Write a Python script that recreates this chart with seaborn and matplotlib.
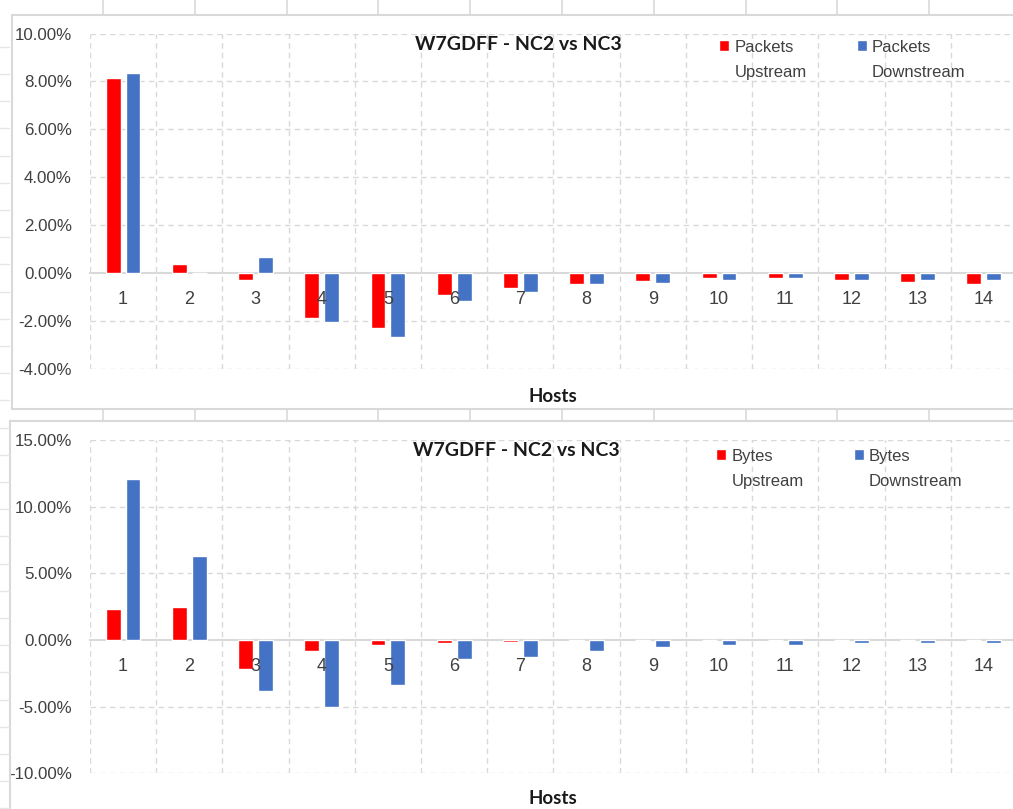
import numpy as np
import pandas as pd
import matplotlib
matplotlib.use("Agg")
import matplotlib.pyplot as plt
import matplotlib.font_manager as fm
from matplotlib.lines import Line2D
from matplotlib.ticker import FuncFormatter
import seaborn as sns

# ---- data (percent change NC2 vs NC3 per host) ----
hosts = [str(i) for i in range(1, 15)]
packets_up = [8.14, 0.37, -0.28, -1.89, -2.30, -0.92, -0.64, -0.46, -0.33, -0.22, -0.22, -0.29, -0.35, -0.46]
packets_down = [8.37, 0.00, 0.68, -2.05, -2.67, -1.18, -0.80, -0.46, -0.40, -0.29, -0.20, -0.29, -0.29, -0.28]
bytes_up = [2.30, 2.50, -2.20, -0.80, -0.37, -0.25, -0.12, -0.10, 0.00, 0.00, 0.00, 0.00, 0.00, 0.00]
bytes_down = [12.08, 6.27, -3.80, -5.00, -3.40, -1.45, -1.25, -0.80, -0.50, -0.37, -0.37, -0.25, -0.25, -0.25]

title_text = "W7GDFF - NC2 vs NC3"
x_label = "Hosts"
RED = "#FF0000"
BLUE = "#4472C4"
GRID = "#D9D9D9"
TXT = "#404040"

sns.set_theme(style="white")
names = {f.name for f in fm.fontManager.ttflist}
REG = "Liberation Sans Narrow" if "Liberation Sans Narrow" in names else "Liberation Sans"
BOLD = "Lato" if "Lato" in names else "DejaVu Sans"
plt.rcParams["font.family"] = [REG, "DejaVu Sans"]
plt.rcParams["text.color"] = TXT
plt.rcParams["axes.axisbelow"] = False

W, H = 1013, 809
fig = plt.figure(figsize=(W / 100, H / 100), dpi=100)
fig.patch.set_facecolor("white")


def rect(x0, y_top, x1, y_bot):
    return [x0 / W, 1 - y_bot / H, (x1 - x0) / W, (y_bot - y_top) / H]


def fig_line(x0, y0, x1, y1, lw=1.5, color=GRID):
    fig.add_artist(Line2D([x0 / W, x1 / W], [1 - y0 / H, 1 - y1 / H],
                          transform=fig.transFigure, color=color, lw=lw))


# spreadsheet cell borders around the two embedded charts
cell_x = [103, 195, 287, 378, 470, 562, 654, 746, 837, 929]
for cx in cell_x:
    fig_line(cx, 0, cx, 15, lw=1.2)
    fig_line(cx, 409, cx, 420.5, lw=1.2)
fig_line(12, 15, W, 15)
fig_line(12, 15, 12, 409)
fig_line(12, 409, W, 409)
fig_line(10, 420.5, W, 420.5)
fig_line(10, 420.5, 10, H)
for ry in np.arange(46.7, H, 27.2):
    fig_line(0, ry, 9, ry, lw=1.0, color="#E6E6E6")


def panel(ax, up, down, labels, ylim, step, title_xy, legend_xy, label_y):
    df = pd.DataFrame({
        "host": hosts * 2,
        "value": list(up) + list(down),
        "series": [labels[0]] * len(hosts) + [labels[1]] * len(hosts),
    })
    sns.barplot(data=df, x="host", y="value", hue="series", hue_order=labels,
                palette={labels[0]: RED, labels[1]: BLUE}, saturation=1,
                width=0.6, gap=0.25, errorbar=None, ax=ax, zorder=2)
    ax.set_axisbelow(False)
    ax.set_xlim(-0.5, 13.44)
    ax.set_ylim(*ylim)
    yt = np.arange(ylim[0], ylim[1] + step / 2, step)
    ax.set_yticks(yt)
    ax.yaxis.set_major_formatter(FuncFormatter(lambda v, _: f"{v:.2f}%"))

    # dashed gridlines behind the bars; axis labels stay on top
    dash = (0, (4, 3))
    for v in yt:
        if v != 0:
            ax.axhline(v, color=GRID, lw=1, ls=dash, zorder=0.5)
    for b in np.arange(-0.5, len(hosts), 1):
        ax.axvline(b, color=GRID, lw=1, ls=dash, zorder=0.5)
    ax.grid(False)

    for s in ("left", "right", "top"):
        ax.spines[s].set_visible(False)
    ax.spines["bottom"].set_position(("data", 0))
    ax.spines["bottom"].set_color(GRID)
    ax.spines["bottom"].set_linewidth(1.5)
    ax.spines["bottom"].set_zorder(1)
    ax.xaxis.set_zorder(3)
    ax.tick_params(axis="x", length=0, pad=13, labelsize=13, labelcolor=TXT)
    ax.tick_params(axis="y", length=0, pad=13, labelsize=12.2, labelcolor=TXT)
    ax.set_ylabel("")
    fig.text(title_xy[0] / W, 1 - title_xy[1] / H, title_text, ha="center", va="center",
             fontsize=14, fontweight="bold", family=BOLD, color="#1a1a1a")
    ax.set_xlabel(x_label, fontsize=13.5, fontweight="bold", family=BOLD, color="#1a1a1a")
    ax.xaxis.set_label_coords((553 - 90) / 923, label_y)

    handles, lbls = ax.get_legend_handles_labels()
    leg = ax.legend(handles, lbls, ncol=2, loc="upper left",
                    bbox_to_anchor=(legend_xy[0] / W, 1 - legend_xy[1] / H),
                    bbox_transform=fig.transFigure, frameon=False,
                    handlelength=0.62, handleheight=0.62, handletextpad=0.3,
                    columnspacing=3.0, borderpad=0, borderaxespad=0,
                    prop={"family": REG, "size": 12})
    for t in leg.get_texts():
        t.set_linespacing(1.85)
        t.set_color(TXT)
    # square marker sits beside the first line of each two-line label
    for col in leg._legend_handle_box.get_children():
        for row in col.get_children():
            row.align = "top"


ax1 = fig.add_axes(rect(90, 33.5, W, 369))
panel(ax1, packets_up, packets_down, ["Packets\nUpstream", "Packets\nDownstream"],
      (-4, 10), 2, (518, 44), (719, 40), (369 - 388) / (369 - 33.5))

ax2 = fig.add_axes(rect(90, 440, W, 773.3))
panel(ax2, bytes_up, bytes_down, ["Bytes\nUpstream", "Bytes\nDownstream"],
      (-10, 15), 5, (516, 450), (716, 449), (773.3 - 790) / (773.3 - 440))

fig.savefig("out.png", dpi=100, facecolor="white")
